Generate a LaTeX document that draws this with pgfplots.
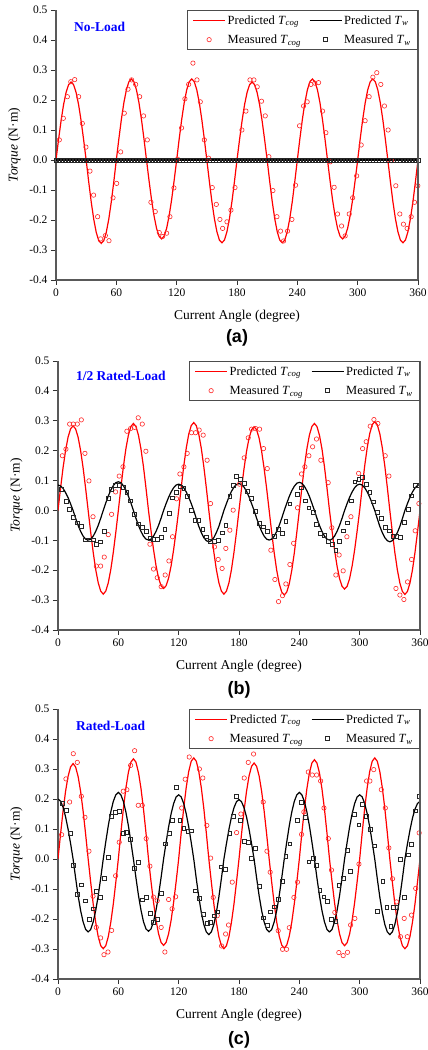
\documentclass[border=0pt]{standalone}
\usepackage{fontspec}
\setmainfont{Liberation Serif}
\newfontfamily\sansfam{Liberation Sans}
\usepackage{pgfplots}
\pgfplotsset{compat=1.18}

\pgfplotsset{
  torq/.style={
    scale only axis, width=362pt, height=270pt,
    xmin=0, xmax=360, ymin=-0.4, ymax=0.5,
    xtick={0,60,120,180,240,300,360},
    ytick={-0.4,-0.3,-0.2,-0.1,0,0.1,0.2,0.3,0.4,0.5},
    axis x line*=bottom, axis y line*=left,
    axis line style={line width=1.2pt, black!65},
    tick align=outside, major tick length=5pt,
    every tick/.style={black!80, line width=0.8pt},
    /pgf/number format/assume math mode=true,
    yticklabel style={/pgf/number format/.cd, fixed, fixed zerofill, precision=1},
    tick label style={font=\fontsize{11.5}{13}\selectfont},
    xlabel={Current Angle (degree)},
    ylabel={\textit{Torque} (N·m)},
    label style={font=\fontsize{13.5}{15}\selectfont},
    xlabel style={at={(axis description cs:0.5,-0.1333)}, anchor=center},
    ylabel style={at={(axis description cs:-0.115,0.5)}, anchor=center},
    clip mode=individual,
    legend columns=2,
    legend style={at={(axis description cs:1,1)}, anchor=north east,
      draw=black!70, line width=0.8pt, fill=white,
      font=\fontsize{12.5}{14}\selectfont, inner xsep=5pt, inner ysep=3pt,
      row sep=5pt,
      /tikz/every even column/.append style={column sep=6pt},
      cells={anchor=west}},
    after end axis/.code={\draw[line width=1.2pt, black!65] (rel axis cs:1,0) -- (rel axis cs:1,1);},
  },
  predcog/.style={red, line width=1.2pt, no marks,
    legend image code/.code={\draw[##1] (0pt,0pt) -- (32pt,0pt);}},
  predw/.style={black, line width=1.2pt, no marks,
    legend image code/.code={\draw[##1] (0pt,0pt) -- (32pt,0pt);}},
  meascog/.style={only marks, mark=o, mark size=2.2pt, red!85, mark options={line width=0.6pt},
    legend image code/.code={\draw[##1] plot coordinates {(16pt,0pt)};}},
  measw/.style={only marks, mark=square, mark size=1.9pt, black!85, mark options={line width=0.6pt},
    legend image code/.code={\draw[##1] plot coordinates {(16pt,0pt)};}},
}

\begin{document}
\begin{tikzpicture}
\path[use as bounding box] (0,0) rectangle (428pt,-1050pt);

% ---------------- (a) ----------------
\begin{axis}[torq, at={(56pt,-10pt)}, anchor=north west]
\addplot[predcog] coordinates {
(0,0) (2.5,0.067) (5,0.130) (7.5,0.184) (10,0.225) (12.5,0.251) (15,0.260) (17.5,0.251) (20,0.225) (22.5,0.184) (25,0.130) (27.5,0.067) (30,0) (32.5,-0.072) (35,-0.139) (37.5,-0.197) (40,-0.241) (42.5,-0.269) (45,-0.278) (47.5,-0.269) (50,-0.241) (52.5,-0.197) (55,-0.139) (57.5,-0.072)
(60,0) (62.5,0.070) (65,0.135) (67.5,0.191) (70,0.234) (72.5,0.261) (75,0.270) (77.5,0.261) (80,0.234) (82.5,0.191) (85,0.135) (87.5,0.070) (90,0) (92.5,-0.068) (95,-0.132) (97.5,-0.186) (100,-0.228) (102.5,-0.254) (105,-0.263) (107.5,-0.254) (110,-0.228) (112.5,-0.186) (115,-0.132) (117.5,-0.068)
(120,0) (122.5,0.070) (125,0.135) (127.5,0.191) (130,0.234) (132.5,0.261) (135,0.270) (137.5,0.261) (140,0.234) (142.5,0.191) (145,0.135) (147.5,0.070) (150,0) (152.5,-0.071) (155,-0.138) (157.5,-0.195) (160,-0.239) (162.5,-0.267) (165,-0.276) (167.5,-0.267) (170,-0.239) (172.5,-0.195) (175,-0.138) (177.5,-0.071)
(180,0) (182.5,0.067) (185,0.130) (187.5,0.184) (190,0.225) (192.5,0.251) (195,0.260) (197.5,0.251) (200,0.225) (202.5,0.184) (205,0.130) (207.5,0.067) (210,0) (212.5,-0.071) (215,-0.138) (217.5,-0.195) (220,-0.239) (222.5,-0.267) (225,-0.276) (227.5,-0.267) (230,-0.239) (232.5,-0.195) (235,-0.138) (237.5,-0.071)
(240,0) (242.5,0.070) (245,0.135) (247.5,0.191) (250,0.234) (252.5,0.261) (255,0.270) (257.5,0.261) (260,0.234) (262.5,0.191) (265,0.135) (267.5,0.070) (270,0) (272.5,-0.068) (275,-0.132) (277.5,-0.186) (280,-0.228) (282.5,-0.254) (285,-0.263) (287.5,-0.254) (290,-0.228) (292.5,-0.186) (295,-0.132) (297.5,-0.068)
(300,0) (302.5,0.070) (305,0.135) (307.5,0.191) (310,0.234) (312.5,0.261) (315,0.270) (317.5,0.261) (320,0.234) (322.5,0.191) (325,0.135) (327.5,0.070) (330,0) (332.5,-0.071) (335,-0.138) (337.5,-0.195) (340,-0.239) (342.5,-0.267) (345,-0.276) (347.5,-0.267) (350,-0.239) (352.5,-0.195) (355,-0.138) (357.5,-0.071) (360,0)
};
\addlegendentry{Predicted \textit{T}\textsubscript{\textit{cog}}}
\addplot[predw] coordinates {(0,0) (360,0)};
\addlegendentry{Predicted \textit{T}\textsubscript{\textit{w}}}
\addplot[meascog] coordinates {
(3.3,0.067) (7.3,0.139) (11.3,0.211) (14.7,0.261) (18.6,0.268) (22.5,0.211) (26.2,0.122) (29.8,0.043) (33.8,-0.037) (37.4,-0.117) (41.4,-0.189) (44.4,-0.263) (49.1,-0.252) (52.7,-0.269) (56.7,-0.126) (60.3,-0.078)
(64.3,0.027) (67.9,0.156) (71.6,0.236) (75.2,0.267) (79.2,0.252) (83.2,0.211) (87.1,0.147) (90.8,0.067) (94.4,-0.141) (98.7,-0.172) (102.7,-0.242) (106.0,-0.255) (110.0,-0.244) (113.3,-0.189) (117.3,-0.093)
(120.9,0.003) (124.9,0.107) (128.2,0.204) (131.9,0.252) (136.2,0.323) (140.2,0.267) (143.5,0.194) (147.5,0.067) (151.8,0.006) (155.4,-0.092) (159.4,-0.148) (163.0,-0.198) (165.7,-0.228) (170.0,-0.206) (174.0,-0.167) (178.0,-0.092)
(184.9,0.100) (188.9,0.163) (192.9,0.267) (196.8,0.267) (200.1,0.244) (204.4,0.196) (208.1,0.147) (211.7,0.011) (215.7,-0.102) (219.7,-0.189) (223.3,-0.237) (226.3,-0.270) (230.3,-0.237) (234.6,-0.198) (238.2,-0.084)
(242.2,0.114) (246.2,0.180) (249.8,0.194) (253.5,0.252) (257.4,0.256) (261.1,0.258) (265.1,0.163) (268.4,0.091) (272.7,-0.006) (276.6,-0.091) (280.0,-0.180) (284.0,-0.220) (287.6,-0.253) (291.6,-0.180) (295.0,-0.126) (299.0,-0.053)
(303.5,0.050) (307.4,0.131) (311.4,0.211) (315.1,0.276) (319.0,0.291) (323.0,0.252) (326.6,0.180) (330.3,0.100) (333.9,-0.002) (337.9,-0.086) (341.9,-0.180) (345.5,-0.214) (349.2,-0.228) (353.2,-0.189) (356.5,-0.141) (359.8,-0.086)
};
\addlegendentry{Measured \textit{T}\textsubscript{\textit{cog}}}
\addplot[measw] coordinates {
(0,0) (3,0) (6,0) (9,0) (12,0) (15,0) (18,0) (21,0) (24,0) (27,0) (30,0) (33,0) (36,0) (39,0) (42,0) (45,0) (48,0) (51,0) (54,0) (57,0)
(60,0) (63,0) (66,0) (69,0) (72,0) (75,0) (78,0) (81,0) (84,0) (87,0) (90,0) (93,0) (96,0) (99,0) (102,0) (105,0) (108,0) (111,0) (114,0) (117,0)
(120,0) (123,0) (126,0) (129,0) (132,0) (135,0) (138,0) (141,0) (144,0) (147,0) (150,0) (153,0) (156,0) (159,0) (162,0) (165,0) (168,0) (171,0) (174,0) (177,0)
(180,0) (183,0) (186,0) (189,0) (192,0) (195,0) (198,0) (201,0) (204,0) (207,0) (210,0) (213,0) (216,0) (219,0) (222,0) (225,0) (228,0) (231,0) (234,0) (237,0)
(240,0) (243,0) (246,0) (249,0) (252,0) (255,0) (258,0) (261,0) (264,0) (267,0) (270,0) (273,0) (276,0) (279,0) (282,0) (285,0) (288,0) (291,0) (294,0) (297,0)
(300,0) (303,0) (306,0) (309,0) (312,0) (315,0) (318,0) (321,0) (324,0) (327,0) (330,0) (333,0) (336,0) (339,0) (342,0) (345,0) (348,0) (351,0) (354,0) (357,0) (360,0)
};
\addlegendentry{Measured \textit{T}\textsubscript{\textit{w}}}
\node[anchor=west, text=blue, font=\bfseries\fontsize{13.5}{15}\selectfont] at (axis description cs:0.04,0.937) {No-Load};
\node[font=\sansfam\bfseries\fontsize{18}{20}\selectfont] at (axis description cs:0.5,-0.215) {(a)};
\end{axis}

% ---------------- (b) ----------------
\begin{axis}[torq, height=269pt, at={(58pt,-361pt)}, anchor=north west]
\addplot[predcog] coordinates {
(0,0) (2.5,0.073) (5,0.142) (7.5,0.200) (10,0.245) (12.5,0.273) (15,0.283) (17.5,0.273) (20,0.245) (22.5,0.200) (25,0.142) (27.5,0.073) (30,0) (32.5,-0.073) (35,-0.140) (37.5,-0.198) (40,-0.242) (42.5,-0.270) (45,-0.280) (47.5,-0.270) (50,-0.242) (52.5,-0.198) (55,-0.140) (57.5,-0.073)
(60,0) (62.5,0.075) (65,0.146) (67.5,0.206) (70,0.252) (72.5,0.281) (75,0.291) (77.5,0.281) (80,0.252) (82.5,0.206) (85,0.146) (87.5,0.075) (90,0) (92.5,-0.068) (95,-0.131) (97.5,-0.185) (100,-0.226) (102.5,-0.252) (105,-0.261) (107.5,-0.252) (110,-0.226) (112.5,-0.185) (115,-0.131) (117.5,-0.068)
(120,0) (122.5,0.076) (125,0.147) (127.5,0.208) (130,0.255) (132.5,0.284) (135,0.294) (137.5,0.284) (140,0.255) (142.5,0.208) (145,0.147) (147.5,0.076) (150,0) (152.5,-0.073) (155,-0.140) (157.5,-0.198) (160,-0.242) (162.5,-0.270) (165,-0.280) (167.5,-0.270) (170,-0.242) (172.5,-0.198) (175,-0.140) (177.5,-0.073)
(180,0) (182.5,0.073) (185,0.140) (187.5,0.198) (190,0.242) (192.5,0.270) (195,0.280) (197.5,0.270) (200,0.242) (202.5,0.198) (205,0.140) (207.5,0.073) (210,0) (212.5,-0.073) (215,-0.142) (217.5,-0.200) (220,-0.245) (222.5,-0.273) (225,-0.283) (227.5,-0.273) (230,-0.245) (232.5,-0.200) (235,-0.142) (237.5,-0.073)
(240,0) (242.5,0.075) (245,0.146) (247.5,0.206) (250,0.252) (252.5,0.281) (255,0.291) (257.5,0.281) (260,0.252) (262.5,0.206) (265,0.146) (267.5,0.075) (270,0) (272.5,-0.068) (275,-0.132) (277.5,-0.186) (280,-0.228) (282.5,-0.254) (285,-0.263) (287.5,-0.254) (290,-0.228) (292.5,-0.186) (295,-0.132) (297.5,-0.068)
(300,0) (302.5,0.077) (305,0.149) (307.5,0.210) (310,0.257) (312.5,0.287) (315,0.297) (317.5,0.287) (320,0.257) (322.5,0.210) (325,0.149) (327.5,0.077) (330,0) (332.5,-0.073) (335,-0.141) (337.5,-0.199) (340,-0.243) (342.5,-0.271) (345,-0.281) (347.5,-0.271) (350,-0.243) (352.5,-0.199) (355,-0.141) (357.5,-0.073) (360,0)
};
\addlegendentry{Predicted \textit{T}\textsubscript{\textit{cog}}}
\addplot[predw] coordinates {
(0,0.085) (2.5,0.082) (5,0.074) (7.5,0.060) (10,0.043) (12.5,0.022) (15,0) (17.5,-0.026) (20,-0.050) (22.5,-0.070) (25,-0.086) (27.5,-0.096) (30,-0.099) (32.5,-0.096) (35,-0.086) (37.5,-0.070) (40,-0.050) (42.5,-0.026) (45,0) (47.5,0.025) (50,0.048) (52.5,0.068) (55,0.083) (57.5,0.093)
(60,0.096) (62.5,0.093) (65,0.083) (67.5,0.068) (70,0.048) (72.5,0.025) (75,0) (77.5,-0.026) (80,-0.050) (82.5,-0.070) (85,-0.086) (87.5,-0.096) (90,-0.099) (92.5,-0.096) (95,-0.086) (97.5,-0.070) (100,-0.050) (102.5,-0.026) (105,0) (107.5,0.023) (110,0.044) (112.5,0.062) (115,0.076) (117.5,0.085)
(120,0.088) (122.5,0.085) (125,0.076) (127.5,0.062) (130,0.044) (132.5,0.023) (135,0) (137.5,-0.027) (140,-0.053) (142.5,-0.074) (145,-0.091) (147.5,-0.101) (150,-0.105) (152.5,-0.101) (155,-0.091) (157.5,-0.074) (160,-0.053) (162.5,-0.027) (165,0) (167.5,0.023) (170,0.045) (172.5,0.064) (175,0.078) (177.5,0.087)
(180,0.090) (182.5,0.087) (185,0.078) (187.5,0.064) (190,0.045) (192.5,0.023) (195,0) (197.5,-0.026) (200,-0.050) (202.5,-0.070) (205,-0.086) (207.5,-0.096) (210,-0.099) (212.5,-0.096) (215,-0.086) (217.5,-0.070) (220,-0.050) (222.5,-0.026) (225,0) (227.5,0.024) (230,0.047) (232.5,0.066) (235,0.081) (237.5,0.091)
(240,0.094) (242.5,0.091) (245,0.081) (247.5,0.066) (250,0.047) (252.5,0.024) (255,0) (257.5,-0.026) (260,-0.050) (262.5,-0.070) (265,-0.086) (267.5,-0.096) (270,-0.099) (272.5,-0.096) (275,-0.086) (277.5,-0.070) (280,-0.050) (282.5,-0.026) (285,0) (287.5,0.023) (290,0.044) (292.5,0.062) (295,0.076) (297.5,0.085)
(300,0.088) (302.5,0.085) (305,0.076) (307.5,0.062) (310,0.044) (312.5,0.023) (315,0) (317.5,-0.027) (320,-0.053) (322.5,-0.074) (325,-0.091) (327.5,-0.101) (330,-0.105) (332.5,-0.101) (335,-0.091) (337.5,-0.074) (340,-0.053) (342.5,-0.027) (345,0) (347.5,0.023) (350,0.044) (352.5,0.062) (355,0.075) (357.5,0.084) (360,0.087)
};
\addlegendentry{Predicted \textit{T}\textsubscript{\textit{w}}}
\addplot[meascog] coordinates {
(4.3,0.183) (7.9,0.205) (11.6,0.289) (15.2,0.289) (19.2,0.289) (23.2,0.303) (26.8,0.191) (30.8,0.099) (34.8,-0.021) (38.1,-0.186) (42.4,-0.186) (46.0,-0.156) (50.0,-0.081) (53.3,-0.013) (57.3,0.062)
(60.9,0.115) (64.6,0.146) (68.5,0.265) (72.2,0.274) (76.2,0.278) (79.8,0.310) (83.8,0.289) (87.4,0.198) (91.4,-0.113) (95.0,-0.196) (98.7,-0.225) (102.6,-0.255) (106.6,-0.216) (110.3,-0.169) (113.9,-0.088) (117.9,0.039)
(121.2,0.122) (125.2,0.146) (128.5,0.191) (132.8,0.260) (136.8,0.260) (140.4,0.269) (144.4,0.252) (148.3,0.168) (151.7,0.023) (155.6,-0.122) (159.3,-0.164) (163.2,-0.194) (166.9,-0.127) (170.9,-0.066) (174.2,0.001)
(180.5,0.088) (185.2,0.176) (189.2,0.243) (192.5,0.272) (196.5,0.274) (200.5,0.272) (204.4,0.207) (208.1,0.140) (211.7,-0.133) (215.7,-0.231) (219.3,-0.305) (223.3,-0.285) (226.6,-0.246) (230.6,-0.181) (234.3,-0.110) (238.2,0.009)
(242.2,0.122) (245.5,0.146) (249.5,0.183) (253.2,0.213) (257.1,0.239) (261.4,0.168) (268.7,0.093) (272.3,-0.058) (276.3,-0.216) (279.6,-0.149) (283.6,-0.202) (287.3,-0.088) (291.3,-0.021)
(298.9,0.124) (302.9,0.207) (306.5,0.230) (310.5,0.282) (314.2,0.304) (318.1,0.291) (325.4,0.183) (329.1,0.115) (336.1,-0.261) (340.0,-0.283) (344.0,-0.298) (347.6,-0.239) (351.6,-0.164) (355.2,-0.068) (358.9,0.023)
};
\addlegendentry{Measured \textit{T}\textsubscript{\textit{cog}}}
\addplot[measw] coordinates {
(3.6,0.070) (7.9,0.030) (11.6,0.003) (15.2,-0.023) (19.2,-0.041) (23.2,-0.052) (26.8,-0.098) (30.8,-0.098) (34.8,-0.098) (38.4,-0.114) (42.4,-0.105) (45.7,-0.071) (50.0,0.040) (53.3,0.070) (57.3,0.085)
(60.9,0.085) (64.9,0.077) (68.5,0.062) (72.2,0.032) (76.2,-0.013) (79.8,-0.045) (83.8,-0.056) (87.7,-0.069) (91.4,-0.094) (95.0,-0.096) (99.0,-0.096) (102.6,-0.091) (106.3,-0.062) (110.3,-0.010) (113.9,0.042) (117.9,0.060)
(121.9,0.079) (125.2,0.074) (128.5,0.046) (132.5,0.000) (136.1,-0.033) (140.1,-0.033) (144.0,-0.062) (147.7,-0.088) (151.7,-0.103) (155.6,-0.103) (159.3,-0.099) (163.2,-0.075) (166.9,-0.051) (170.9,0.048) (174.2,0.085) (177.6,0.113)
(181.0,0.105) (185.2,0.090) (188.5,0.065) (192.5,0.040) (196.5,-0.004) (200.5,-0.043) (204.1,-0.055) (208.1,-0.069) (215.0,-0.086) (219.0,-0.062) (223.0,-0.077) (226.6,-0.035) (230.6,0.022) (238.2,0.055)
(242.2,0.076) (245.9,0.032) (249.5,0.009) (253.5,-0.007) (257.1,-0.046) (261.1,-0.077) (264.8,-0.082) (268.7,-0.103) (272.7,-0.114) (276.3,-0.133) (279.6,-0.103) (283.6,-0.068) (287.6,-0.041) (291.3,0.032) (295.2,0.096) (299.2,0.105)
(302.9,0.110) (306.5,0.087) (310.1,0.060) (313.8,0.029) (317.8,-0.007) (321.7,-0.027) (325.7,-0.057) (329.3,-0.068) (333.0,-0.086) (337.0,-0.086) (340.6,-0.091) (344.3,-0.040) (348.3,0.003) (351.6,0.049) (355.6,0.085) (358.9,0.085)
};
\addlegendentry{Measured \textit{T}\textsubscript{\textit{w}}}
\node[anchor=west, text=blue, font=\bfseries\fontsize{13.5}{15}\selectfont] at (axis description cs:0.04,0.944) {1/2 Rated-Load};
\node[font=\sansfam\bfseries\fontsize{18}{20}\selectfont] at (axis description cs:0.5,-0.223) {(b)};
\end{axis}

% ---------------- (c) ----------------
\begin{axis}[torq, at={(58pt,-709pt)}, anchor=north west]
\addplot[predcog] coordinates {
(0,0) (2.5,0.082) (5,0.159) (7.5,0.225) (10,0.275) (12.5,0.307) (15,0.318) (17.5,0.307) (20,0.275) (22.5,0.225) (25,0.159) (27.5,0.082) (30,0) (32.5,-0.077) (35,-0.150) (37.5,-0.211) (40,-0.259) (42.5,-0.289) (45,-0.299) (47.5,-0.289) (50,-0.259) (52.5,-0.211) (55,-0.150) (57.5,-0.077)
(60,0) (62.5,0.087) (65,0.167) (67.5,0.236) (70,0.289) (72.5,0.323) (75,0.334) (77.5,0.323) (80,0.289) (82.5,0.236) (85,0.167) (87.5,0.087) (90,0) (92.5,-0.075) (95,-0.144) (97.5,-0.204) (100,-0.249) (102.5,-0.278) (105,-0.288) (107.5,-0.278) (110,-0.249) (112.5,-0.204) (115,-0.144) (117.5,-0.075)
(120,0) (122.5,0.087) (125,0.169) (127.5,0.238) (130,0.292) (132.5,0.326) (135,0.337) (137.5,0.326) (140,0.292) (142.5,0.238) (145,0.169) (147.5,0.087) (150,0) (152.5,-0.077) (155,-0.150) (157.5,-0.211) (160,-0.259) (162.5,-0.289) (165,-0.299) (167.5,-0.289) (170,-0.259) (172.5,-0.211) (175,-0.150) (177.5,-0.077)
(180,0) (182.5,0.083) (185,0.160) (187.5,0.226) (190,0.277) (192.5,0.309) (195,0.320) (197.5,0.309) (200,0.277) (202.5,0.226) (205,0.160) (207.5,0.083) (210,0) (212.5,-0.077) (215,-0.149) (217.5,-0.210) (220,-0.257) (222.5,-0.287) (225,-0.297) (227.5,-0.287) (230,-0.257) (232.5,-0.210) (235,-0.149) (237.5,-0.077)
(240,0) (242.5,0.086) (245,0.166) (247.5,0.234) (250,0.287) (252.5,0.320) (255,0.331) (257.5,0.320) (260,0.287) (262.5,0.234) (265,0.166) (267.5,0.086) (270,0) (272.5,-0.075) (275,-0.145) (277.5,-0.204) (280,-0.250) (282.5,-0.279) (285,-0.289) (287.5,-0.279) (290,-0.250) (292.5,-0.204) (295,-0.145) (297.5,-0.075)
(300,0) (302.5,0.087) (305,0.169) (307.5,0.238) (310,0.292) (312.5,0.326) (315,0.337) (317.5,0.326) (320,0.292) (322.5,0.238) (325,0.169) (327.5,0.087) (330,0) (332.5,-0.077) (335,-0.150) (337.5,-0.211) (340,-0.259) (342.5,-0.289) (345,-0.299) (347.5,-0.289) (350,-0.259) (352.5,-0.211) (355,-0.150) (357.5,-0.077) (360,0)
};
\addlegendentry{Predicted \textit{T}\textsubscript{\textit{cog}}}
\addplot[predw] coordinates {
(0,0.200) (2.5,0.193) (5,0.173) (7.5,0.141) (10,0.100) (12.5,0.052) (15,0) (17.5,-0.063) (20,-0.122) (22.5,-0.172) (25,-0.210) (27.5,-0.235) (30,-0.243) (32.5,-0.235) (35,-0.210) (37.5,-0.172) (40,-0.122) (42.5,-0.063) (45,0) (47.5,0.057) (50,0.111) (52.5,0.157) (55,0.192) (57.5,0.214)
(60,0.222) (62.5,0.214) (65,0.192) (67.5,0.157) (70,0.111) (72.5,0.057) (75,0) (77.5,-0.062) (80,-0.121) (82.5,-0.170) (85,-0.209) (87.5,-0.233) (90,-0.241) (92.5,-0.233) (95,-0.209) (97.5,-0.170) (100,-0.121) (102.5,-0.062) (105,0) (107.5,0.055) (110,0.107) (112.5,0.151) (115,0.185) (117.5,0.207)
(120,0.214) (122.5,0.207) (125,0.185) (127.5,0.151) (130,0.107) (132.5,0.055) (135,0) (137.5,-0.065) (140,-0.126) (142.5,-0.178) (145,-0.218) (147.5,-0.243) (150,-0.252) (152.5,-0.243) (155,-0.218) (157.5,-0.178) (160,-0.126) (162.5,-0.065) (165,0) (167.5,0.051) (170,0.099) (172.5,0.140) (175,0.171) (177.5,0.191)
(180,0.198) (182.5,0.191) (185,0.171) (187.5,0.140) (190,0.099) (192.5,0.051) (195,0) (197.5,-0.063) (200,-0.122) (202.5,-0.172) (205,-0.210) (207.5,-0.235) (210,-0.243) (212.5,-0.235) (215,-0.210) (217.5,-0.172) (220,-0.122) (222.5,-0.063) (225,0) (227.5,0.057) (230,0.111) (232.5,0.157) (235,0.192) (237.5,0.214)
(240,0.222) (242.5,0.214) (245,0.192) (247.5,0.157) (250,0.111) (252.5,0.057) (255,0) (257.5,-0.063) (260,-0.122) (262.5,-0.172) (265,-0.210) (267.5,-0.235) (270,-0.243) (272.5,-0.235) (275,-0.210) (277.5,-0.172) (280,-0.122) (282.5,-0.063) (285,0) (287.5,0.055) (290,0.107) (292.5,0.151) (295,0.185) (297.5,0.207)
(300,0.214) (302.5,0.207) (305,0.185) (307.5,0.151) (310,0.107) (312.5,0.055) (315,0) (317.5,-0.065) (320,-0.126) (322.5,-0.178) (325,-0.218) (327.5,-0.243) (330,-0.252) (332.5,-0.243) (335,-0.218) (337.5,-0.178) (340,-0.126) (342.5,-0.065) (345,0) (347.5,0.050) (350,0.096) (352.5,0.136) (355,0.166) (357.5,0.185) (360,0.192)
};
\addlegendentry{Predicted \textit{T}\textsubscript{\textit{w}}}
\addplot[meascog] coordinates {
(3.6,0.081) (7.9,0.267) (11.6,0.190) (15.2,0.351) (19.2,0.322) (23.2,0.209) (26.8,0.139) (30.8,0.026) (34.8,-0.124) (38.1,-0.228) (42.4,-0.263) (45.7,-0.319) (49.7,-0.310) (53.3,-0.238) (57.3,-0.056)
(60.9,0.056) (64.9,0.226) (68.5,0.231) (72.2,0.312) (76.2,0.361) (79.8,0.179) (83.8,0.179) (87.7,0.068) (91.4,-0.024) (95.0,-0.127) (98.7,-0.139) (102.6,-0.228) (106.3,-0.310) (110.0,-0.135) (113.5,-0.166) (117.0,-0.126)
(123.0,0.170) (126.5,0.266) (130.5,0.340) (140.6,0.300) (144.0,0.270) (148.0,0.112) (151.8,0.003) (154.4,-0.128) (158.4,-0.189) (162.7,-0.290) (166.7,-0.250) (169.6,-0.220) (173.3,-0.077) (177.6,0.088)
(181.9,0.150) (185.2,0.270) (189.2,0.322) (194.5,0.350) (204.1,0.190) (207.8,0.026) (211.0,-0.044) (219.0,-0.239) (223.3,-0.301) (227.3,-0.301) (230.0,-0.229) (234.6,-0.128) (238.2,-0.077)
(242.2,0.082) (244.5,0.157) (248.9,0.290) (252.9,0.280) (257.2,0.280) (261.2,0.260) (264.5,0.170) (268.8,0.068) (272.0,-0.037) (275.3,-0.178) (279.3,-0.312) (283.6,-0.322) (287.9,-0.311) (291.0,-0.220) (295.2,-0.198) (299.3,-0.017)
(306.9,0.260) (310.2,0.260) (314.0,0.298) (321.5,0.231) (325.5,0.170) (329.0,0.037) (332.7,-0.066) (336.7,-0.143) (340.6,-0.259) (344.3,-0.198) (347.4,-0.259) (351.5,-0.187) (355.7,-0.098) (359.2,0.087)
};
\addlegendentry{Measured \textit{T}\textsubscript{\textit{cog}}}
\addplot[measw] coordinates {
(4.3,0.187) (7.9,0.162) (11.9,0.087) (15.2,-0.021) (19.2,-0.117) (23.2,-0.086) (26.8,-0.139) (30.8,-0.202) (34.8,-0.166) (38.1,-0.108) (42.4,-0.127) (45.7,-0.063) (49.7,0.007) (53.3,0.142) (57.3,0.157)
(60.9,0.159) (64.6,0.087) (68.2,0.090) (72.2,0.067) (75.8,-0.031) (79.8,-0.011) (83.8,-0.136) (87.7,-0.128) (91.4,-0.180) (95.0,-0.211) (98.7,-0.200) (102.6,-0.115) (106.6,0.051) (110.3,0.087) (113.9,0.128) (117.9,0.239)
(121.2,0.129) (125.2,0.103) (129.1,0.092) (132.8,0.094) (136.5,-0.106) (140.7,-0.130) (144.4,-0.183) (148.3,-0.213) (151.5,-0.211) (155.4,-0.189) (158.7,-0.176) (162.7,-0.026) (166.7,-0.033) (170.9,0.087) (174.2,0.142) (177.6,0.209)
(181.0,0.128) (185.2,0.059) (189.2,0.056) (192.5,0.003) (196.5,0.037) (200.1,-0.090) (204.0,-0.196) (208.0,-0.220) (211.3,-0.176) (214.9,-0.159) (218.9,-0.135) (222.8,-0.073) (226.6,0.009) (230.6,0.051) (238.2,0.129)
(242.2,0.190) (246.0,0.140) (249.5,-0.009) (253.5,0.003) (257.2,-0.020) (260.4,-0.103) (264.4,-0.126) (268.0,-0.142) (272.0,-0.200) (276.0,-0.207) (279.3,-0.087) (283.6,-0.065) (288.0,0.028) (291.0,-0.040) (294.5,0.148) (299.2,0.114)
(302.9,0.183) (306.9,0.142) (310.2,0.098) (314.5,0.044) (317.9,-0.175) (323.0,-0.073) (327.0,-0.160) (331.0,-0.224) (333.5,-0.160) (337.0,-0.160) (340.3,0.000) (344.2,-0.128) (348.3,0.014) (351.6,0.050) (355.6,0.161) (358.9,0.209)
};
\addlegendentry{Measured \textit{T}\textsubscript{\textit{w}}}
\node[anchor=west, text=blue, font=\bfseries\fontsize{13.5}{15}\selectfont] at (axis description cs:0.04,0.937) {Rated-Load};
\node[font=\sansfam\bfseries\fontsize{18}{20}\selectfont] at (axis description cs:0.5,-0.226) {(c)};
\end{axis}
\end{tikzpicture}
\end{document}
